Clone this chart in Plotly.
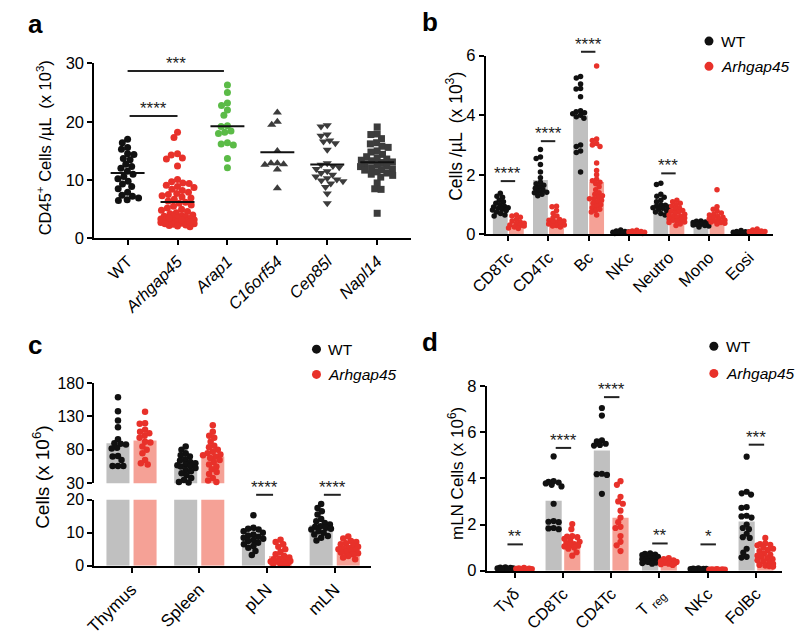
import math
import plotly.graph_objects as go

FONT = "Arial, Liberation Sans, Helvetica, sans-serif"
BLACK = "#111111"
RED = "#E8312A"
GREEN = "#5BBB47"
DGRAY = "#3C3C3C"
BAR_GRAY = "#C0C0C0"
BAR_RED = "#F5A196"

# ---------------- data ----------------
a_categories = ["WT", "Arhgap45", "Arap1", "C16orf54", "Cep85l", "Napl14"]
a_ticktext = ["WT", "<i>Arhgap45</i>", "<i>Arap1</i>", "<i>C16orf54</i>", "<i>Cep85l</i>", "<i>Napl14</i>"]
a_wt = [17.0, 16.4, 15.6, 15.3, 14.5, 14.4, 13.7, 13.5, 12.7, 12.3, 12.0, 11.5, 11.0,
        10.6, 10.2, 9.8, 9.3, 8.9, 8.5, 7.9, 7.4, 7.2, 6.9, 6.6, 6.5]
a_arhgap45 = [18.2, 17.3, 14.5, 14.3, 13.8, 13.6, 12.4, 10.1,
              9.7, 9.5, 9.4, 9.1, 8.9, 8.7, 8.4, 8.2, 7.9,
              7.7, 7.5, 7.3, 7.1, 6.9, 6.7, 6.4, 6.2, 6.0,
              5.7, 5.5, 5.2, 5.0, 4.8, 4.6, 4.4, 4.2, 4.0,
              3.9, 3.8, 3.7, 3.6, 3.5, 3.4, 3.3, 3.2, 3.1,
              3.0, 3.0, 2.9, 2.8, 2.7, 2.6, 2.5, 2.4, 2.3, 2.2, 2.1, 2.0,
              3.5, 3.2, 2.8, 2.5]
a_arap1 = [26.3, 25.0, 23.2, 22.8, 22.0, 21.1, 19.3, 19.2, 18.4, 18.2, 18.0, 16.4, 16.2, 16.0, 13.7, 12.1]
a_c16orf54 = [21.6, 20.0, 19.5, 15.0, 12.9, 12.6, 12.9, 12.7, 11.8, 8.6]
a_cep85l = [19.4, 19.2, 17.8, 17.6, 16.8, 16.6, 16.3, 15.2, 12.9, 12.6, 12.4, 12.2, 11.9,
            11.5, 11.2, 10.9, 10.6, 10.3, 10.1, 9.9, 9.8, 9.4, 8.8, 7.7, 6.0]
a_napl14 = [19.1, 17.9, 17.8, 17.1, 16.4, 16.2, 15.8, 15.6, 15.0, 14.8, 14.4, 14.0, 13.8,
            13.6, 13.4, 13.3, 13.1, 13.0, 12.8, 12.6, 12.4, 12.3, 12.1, 11.9, 11.7, 11.4,
            11.0, 9.5, 8.5, 8.4, 4.3, 11.2, 11.8, 10.5, 10.8]

b_categories = ["CD8Tc", "CD4Tc", "Bc", "NKc", "Neutro", "Mono", "Eosi"]
b_wt = [
    [1.38, 1.28, 1.25, 1.15, 1.1, 1.05, 1.0, 0.95, 0.92, 0.9, 0.88, 0.85, 0.82, 0.8, 0.75, 0.7, 0.65, 0.62],
    [2.85, 2.6, 2.55, 2.35, 2.1, 1.9, 1.75, 1.7, 1.65, 1.6, 1.55, 1.5, 1.45, 1.42, 1.4, 1.35, 1.3],
    [5.3, 5.25, 5.05, 4.9, 4.88, 4.62, 4.15, 4.12, 4.08, 4.05, 4.0, 3.95, 3.9, 3.0, 2.95, 2.8, 2.75, 2.1],
    [0.15, 0.12, 0.1, 0.08, 0.07, 0.06, 0.05, 0.04, 0.03],
    [1.72, 1.68, 1.35, 1.28, 1.25, 1.15, 1.1, 1.0, 0.98, 0.95, 0.92, 0.9, 0.88, 0.85, 0.8, 0.75, 0.7, 0.65],
    [0.45, 0.44, 0.42, 0.4, 0.4, 0.38, 0.37, 0.36, 0.35, 0.34, 0.33, 0.32, 0.3, 0.28, 0.25],
    [0.13, 0.1, 0.09, 0.08, 0.07, 0.06, 0.05, 0.04],
]
b_arhgap45 = [
    [0.65, 0.62, 0.58, 0.5, 0.45, 0.42, 0.38, 0.35, 0.32, 0.3, 0.28, 0.25, 0.22, 0.2],
    [0.95, 0.93, 0.8, 0.7, 0.62, 0.55, 0.5, 0.48, 0.45, 0.42, 0.4, 0.38, 0.35, 0.32, 0.3, 0.28, 0.25],
    [5.65, 3.2, 3.15, 3.05, 3.0, 2.95, 2.4, 2.15, 2.0, 1.85, 1.8, 1.75, 1.7, 1.6, 1.5, 1.4, 1.35,
     1.3, 1.25, 1.2, 1.2, 1.15, 1.1, 1.05, 1.0, 0.95, 0.9, 0.85, 0.8, 0.75, 0.65],
    [0.14, 0.12, 0.1, 0.08, 0.07, 0.06, 0.05, 0.04, 0.03],
    [1.15, 1.1, 1.05, 1.0, 0.95, 0.9, 0.85, 0.8, 0.78, 0.75, 0.7, 0.68, 0.65, 0.62, 0.6, 0.58,
     0.55, 0.52, 0.5, 0.48, 0.45, 0.42, 0.4, 0.35, 0.3],
    [1.5, 0.93, 0.85, 0.78, 0.72, 0.68, 0.65, 0.6, 0.58, 0.55, 0.52, 0.5, 0.48, 0.45, 0.42, 0.4, 0.38, 0.35],
    [0.18, 0.15, 0.12, 0.1, 0.09, 0.08, 0.07, 0.06, 0.05],
]

c_categories = ["Thymus", "Spleen", "pLN", "mLN"]
c_wt = [
    [159, 138, 124, 114, 96, 90, 89, 88, 83, 82, 71, 70, 65, 56, 56, 56],
    [85, 80, 75, 72, 70, 66, 64, 62, 60, 58, 57, 56, 55, 53, 50, 48, 45, 42, 38, 35, 32, 31],
    [15.3, 11.5, 11.2, 11.0, 10.5, 10.0, 9.5, 9.2, 8.8, 8.5, 8.2, 7.8, 7.5, 7.0, 6.5, 6.0, 5.5, 4.5, 3.3],
    [18.7, 17.5, 16.5, 15.5, 14.2, 13.5, 13.0, 12.5, 12.0, 11.8, 11.5, 11.2, 11.0, 10.5, 10.0, 9.5, 9.0, 8.5, 7.7],
]
c_arhgap45 = [
    [137, 120, 119, 110, 107, 105, 101, 98, 92, 91, 85, 80, 75, 65, 60, 58],
    [117, 107, 101, 98, 92, 86, 84, 80, 77, 75, 73, 72, 70, 68, 65, 62, 58, 55, 51, 47, 44, 38, 34, 32],
    [7.9, 7.2, 6.5, 5.8, 5.0, 4.2, 3.5, 3.0, 2.5, 2.2, 2.0, 1.8, 1.5, 1.3, 1.2, 1.0, 0.8, 0.6, 0.5, 0.4],
    [8.9, 8.3, 7.5, 7.2, 6.8, 6.5, 6.0, 5.8, 5.5, 5.2, 5.0, 4.8, 4.5, 4.2, 4.0, 3.8, 3.5, 3.0, 2.5, 2.0],
]

d_categories = ["Tγδ", "CD8Tc", "CD4Tc", "Treg", "NKc", "FolBc"]
d_ticktext = ["Tγδ", "CD8Tc", "CD4Tc", "T <sub>reg</sub>", "NKc", "FolBc"]
d_wt = [
    [0.15, 0.13, 0.12, 0.1, 0.1, 0.09, 0.08, 0.07],
    [4.95, 3.88, 3.85, 3.82, 3.78, 3.72, 3.65, 2.9, 2.15, 2.12, 2.1, 1.85, 1.83, 1.8],
    [7.05, 6.72, 5.65, 5.6, 5.5, 5.45, 5.42, 4.2, 4.18, 4.15, 3.33],
    [0.75, 0.73, 0.7, 0.68, 0.65, 0.62, 0.6, 0.58, 0.55, 0.52, 0.5, 0.48, 0.45, 0.42, 0.4, 0.38, 0.35, 0.33, 0.3],
    [0.1, 0.09, 0.08, 0.08, 0.07, 0.07, 0.06, 0.05],
    [4.94, 3.42, 3.35, 3.3, 2.75, 2.72, 2.38, 2.35, 2.3, 2.0, 1.85, 1.8, 1.6, 1.45, 1.42, 0.95, 0.78, 0.6, 0.57],
]
d_arhgap45 = [
    [0.12, 0.1, 0.09, 0.08, 0.07, 0.06, 0.05, 0.04],
    [2.02, 1.8, 1.5, 1.48, 1.45, 1.38, 1.3, 1.25, 1.2, 1.15, 1.1, 1.08, 1.05, 1.0, 0.95, 0.8, 0.65],
    [3.88, 3.72, 3.2, 3.0, 2.9, 2.6, 2.3, 2.1, 1.9, 1.85, 1.5, 1.25, 1.1, 0.85],
    [0.55, 0.5, 0.45, 0.42, 0.4, 0.38, 0.36, 0.34, 0.32, 0.3, 0.28, 0.25],
    [0.07, 0.06, 0.06, 0.05, 0.05, 0.05, 0.04, 0.04],
    [1.42, 1.18, 1.15, 1.12, 1.1, 1.0, 0.95, 0.9, 0.85, 0.75, 0.7, 0.65, 0.6, 0.55, 0.5, 0.45,
     0.4, 0.35, 0.3, 0.25, 0.22, 0.2, 0.18],
]

# significance annotations (data units)
a_sig = [(0.0, 1.93, 28.7, "***"), (0.04, 1.0, 21.0, "****")]
b_sig = [(0, 1.79, "****"), (1, 3.13, "****"), (2, 6.13, "****"), (4, 2.05, "***")]
c_sig = [(2, 21.5, "****"), (3, 21.5, "****")]
d_sig = [(0, 1.14, "**"), (1, 5.32, "****"), (2, 7.52, "****"), (3, 1.18, "**"), (4, 1.14, "*"), (5, 5.46, "***")]

# ---------------- geometry (pixels) ----------------
W, H = 800, 638


def fx(px):
    return px / W


def fy(py):
    return 1 - py / H


class Panel:
    def __init__(self, x0, x1, c0, sp):
        self.x0, self.x1, self.c0, self.sp = x0, x1, c0, sp
        self.xr = ((x0 - c0) / sp, (x1 - c0) / sp)

    def xpx(self, xv):
        return self.c0 + xv * self.sp


class YAx:
    def __init__(self, y0, y1, lo, hi):
        self.y0, self.y1, self.lo, self.hi = y0, y1, lo, hi

    def ypx(self, v):
        return self.y1 - (v - self.lo) / (self.hi - self.lo) * (self.y1 - self.y0)


PA = Panel(79, 403, 113, 51)
YA = YAx(56, 236, 0, 30)
PB = Panel(479, 772, 502, 41)
YB = YAx(48, 232, 0, 6)
PC = Panel(79, 362, 117, 69.2)
YCU = YAx(385, 488, 30, 180)
YCL = YAx(505, 573, 0, 20)
PD = Panel(480, 782, 508.5, 49.3)
YD = YAx(388, 578, 0, 8)


def swarm(ypx, diam, maxw):
    placed = []
    offs = [0.0] * len(ypx)
    order = sorted(range(len(ypx)), key=lambda i: ypx[i])
    for i in order:
        y = ypx[i]
        cands = [0.0]
        for xj, yj in placed:
            dy = abs(y - yj)
            if dy < diam:
                dx = math.sqrt(diam * diam - dy * dy)
                cands += [xj + dx, xj - dx]
        cands.sort(key=lambda c: (abs(c), c))
        chosen = None
        for c in cands:
            if abs(c) > maxw + 1e-9:
                continue
            if all((c - xj) ** 2 + (y - yj) ** 2 >= diam * diam - 1e-6 for xj, yj in placed):
                chosen = c
                break
        if chosen is None:
            grid = [maxw * k / 4 for k in range(-4, 5)]
            chosen = max(grid, key=lambda c: min((c - xj) ** 2 + (y - yj) ** 2 for xj, yj in placed))
        placed.append((chosen, y))
        offs[i] = chosen
    return offs


def mean(v):
    return sum(v) / len(v)


fig = go.Figure()

# ---------------- panel a ----------------
a_series = [a_wt, a_arhgap45, a_arap1, a_c16orf54, a_cep85l, a_napl14]
a_styles = [("circle", BLACK, 7), ("circle", RED, 7), ("circle", GREEN, 7),
            ("triangle-up", DGRAY, 8), ("triangle-down", DGRAY, 8), ("square", DGRAY, 7)]
for i, (vals, (sym, col, sz)) in enumerate(zip(a_series, a_styles)):
    offs = swarm([YA.ypx(v) for v in vals], 6.5, 17)
    fig.add_trace(go.Scatter(x=[i + o / PA.sp for o in offs], y=vals, mode="markers",
                             marker=dict(symbol=sym, color=col, size=sz, line=dict(width=0)),
                             xaxis="x", yaxis="y", cliponaxis=False, showlegend=False))
for i, vals in enumerate(a_series):
    m = mean(vals)
    fig.add_trace(go.Scatter(x=[i - 0.34, i + 0.34], y=[m, m], mode="lines",
                             line=dict(color=BLACK, width=2), xaxis="x", yaxis="y", showlegend=False))


# ---------------- grouped panels ----------------
def grouped(panel, yax_list, cats, wt, ko, off, bw, diam, maxw, msize, xa, ya_for):
    n = len(cats)
    for ya, yax in yax_list:
        fig.add_trace(go.Bar(x=[i - off for i in range(n)], y=[mean(v) for v in wt], width=bw,
                             marker=dict(color=BAR_GRAY, line=dict(width=0)),
                             xaxis=xa, yaxis=ya, showlegend=False))
        fig.add_trace(go.Bar(x=[i + off for i in range(n)], y=[mean(v) for v in ko], width=bw,
                             marker=dict(color=BAR_RED, line=dict(width=0)),
                             xaxis=xa, yaxis=ya, showlegend=False))
    for series, sign, col in ((wt, -1, BLACK), (ko, 1, RED)):
        groups = {}
        for i, vals in enumerate(series):
            ypxs = [ya_for(v)[1].ypx(v) for v in vals]
            offs = swarm(ypxs, diam, maxw)
            for v, o in zip(vals, offs):
                ya = ya_for(v)[0]
                groups.setdefault(ya, ([], []))
                groups[ya][0].append(i + sign * off + o / panel.sp)
                groups[ya][1].append(v)
        for ya, (xs, ys) in groups.items():
            fig.add_trace(go.Scatter(x=xs, y=ys, mode="markers",
                                     marker=dict(color=col, size=msize, line=dict(width=0)),
                                     xaxis=xa, yaxis=ya, cliponaxis=False, showlegend=False))


grouped(PB, [("y2", YB)], b_categories, b_wt, b_arhgap45, 0.2, 0.37, 4.6, 8, 5.5, "x2",
        lambda v: ("y2", YB))
grouped(PC, [("y3", YCU), ("y4", YCL)], c_categories, c_wt, c_arhgap45, 0.2, 0.34, 5.5, 10, 6.5, "x3",
        lambda v: ("y3", YCU) if v > 25 else ("y4", YCL))
grouped(PD, [("y5", YD)], d_categories, d_wt, d_arhgap45, 0.193, 0.335, 5.3, 8, 6.2, "x4",
        lambda v: ("y5", YD))

# ---------------- axes ----------------
axcommon = dict(showline=True, linecolor="black", linewidth=2, ticks="outside", ticklen=5,
                tickwidth=2, tickcolor="black", showgrid=False, zeroline=False)


def xaxis(panel, yname, cats, ticktext, fs=16.5):
    return dict(domain=[fx(panel.x0), fx(panel.x1)], range=list(panel.xr), anchor=yname,
                tickmode="array", tickvals=list(range(len(cats))), ticktext=ticktext,
                tickangle=-45, tickfont=dict(family=FONT, size=fs, color="black"), **axcommon)


def yaxis(yax, xname, tickvals, fs=16.5):
    return dict(domain=[fy(yax.y1), fy(yax.y0)], range=[yax.lo, yax.hi], anchor=xname,
                tickmode="array", tickvals=tickvals,
                tickfont=dict(family=FONT, size=fs, color="black"), **axcommon)


fig.update_layout(
    width=W, height=H, margin=dict(l=0, r=0, t=0, b=0),
    paper_bgcolor="white", plot_bgcolor="white", barmode="overlay", showlegend=False,
    xaxis=xaxis(PA, "y", a_categories, a_ticktext),
    yaxis=yaxis(YA, "x", [0, 10, 20, 30]),
    xaxis2=xaxis(PB, "y2", b_categories, b_categories),
    yaxis2=yaxis(YB, "x2", [0, 2, 4, 6]),
    xaxis3=xaxis(PC, "y4", c_categories, c_categories, 17),
    yaxis3=yaxis(YCU, "x3", [30, 80, 130, 180], 16),
    yaxis4=yaxis(YCL, "x3", [0, 10, 20], 16),
    xaxis4=xaxis(PD, "y5", d_categories, d_ticktext),
    yaxis5=yaxis(YD, "x4", [0, 2, 4, 6, 8]),
)

shapes = []
annos = []


def sig(x0px, x1px, ypx, label):
    shapes.append(dict(type="line", xref="paper", yref="paper", x0=fx(x0px), x1=fx(x1px),
                       y0=fy(ypx), y1=fy(ypx), line=dict(color="#222222", width=2)))
    annos.append(dict(text=label, x=fx((x0px + x1px) / 2), y=fy(ypx), xref="paper", yref="paper",
                      xanchor="center", yanchor="bottom", yshift=-4, showarrow=False,
                      font=dict(family=FONT, size=17, color="#222222")))


for l, r, y, lab in a_sig:
    sig(PA.xpx(l), PA.xpx(r), YA.ypx(y), lab)
for c, y, lab in b_sig:
    sig(PB.xpx(c - 0.19), PB.xpx(c + 0.17), YB.ypx(y), lab)
for c, y, lab in c_sig:
    sig(PC.xpx(c - 0.16), PC.xpx(c + 0.09), YCL.ypx(y), lab)
for c, y, lab in d_sig:
    sig(PD.xpx(c - 0.15), PD.xpx(c + 0.17), YD.ypx(y), lab)


def text(t, xpx, ypx, size=15, angle=0, xanchor="center", bold=False):
    annos.append(dict(text=("<b>%s</b>" % t) if bold else t, x=fx(xpx), y=fy(ypx),
                      xref="paper", yref="paper", xanchor=xanchor, yanchor="middle",
                      textangle=angle, showarrow=False,
                      font=dict(family=FONT, size=size, color="black")))


# y titles
text("CD45<sup>+</sup> Cells /µL  (x 10<sup>3</sup>)", 28, 143, 16.5, -90)
text("Cells /µL  (x 10<sup>3</sup>)", 447, 131, 17.5, -90)
text("Cells (x 10<sup>6</sup>)", 25, 482, 19, -90)
text("mLN Cells (x 10<sup>6</sup>)", 448, 478, 17, -90)

# panel letters
text("a", 9, 15, 26, 0, "left", True)
text("b", 412, 13, 26, 0, "left", True)
text("c", 9, 346, 26, 0, "left", True)
text("d", 412, 343, 26, 0, "left", True)


def legend(xpx, ypx_wt, ypx_ko):
    for ypx, col, lab in ((ypx_wt, BLACK, "WT"), (ypx_ko, RED, "<i>Arhgap45</i>")):
        shapes.append(dict(type="circle", xref="paper", yref="paper", xsizemode="pixel",
                           ysizemode="pixel", xanchor=fx(xpx), yanchor=fy(ypx),
                           x0=-4.5, x1=4.5, y0=-4.5, y1=4.5,
                           fillcolor=col, line=dict(width=0)))
        text(lab, xpx + 10, ypx, 15.5, 0, "left")


legend(707, 33, 59)
legend(306, 350, 376)
legend(712, 347, 375)

fig.update_layout(shapes=shapes, annotations=annos)
fig.write_html("out.html", config={"displayModeBar": False},
               post_script="document.body.style.margin='0';document.body.style.overflow='hidden';")
